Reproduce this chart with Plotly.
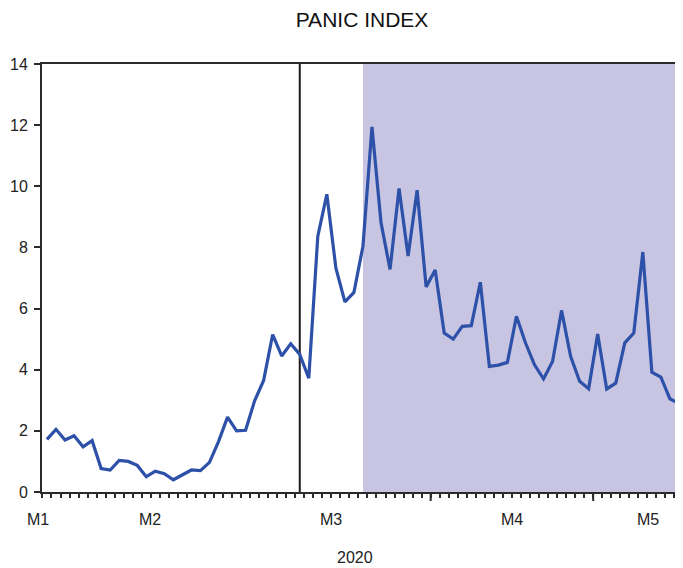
import plotly.graph_objects as go

# Daily (business-day) observations of the panic index
panic_index = [
    1.72, 2.05, 1.70, 1.84, 1.48, 1.68, 0.77, 0.72, 1.03, 1.00,
    0.87, 0.50, 0.68, 0.60, 0.40, 0.56, 0.72, 0.70, 0.97, 1.65,
    2.45, 2.00, 2.02, 2.98, 3.65, 5.15, 4.45, 4.85, 4.50, 3.72,
    8.37, 9.74, 7.33, 6.22, 6.53, 8.04, 11.94, 8.81, 7.28, 9.93,
    7.72, 9.87, 6.71, 7.26, 5.20, 5.00, 5.42, 5.44, 6.86, 4.11,
    4.15, 4.24, 5.75, 4.88, 4.16, 3.70, 4.27, 5.94, 4.44, 3.62,
    3.38, 5.17, 3.37, 3.56, 4.88, 5.20, 7.85, 3.92, 3.76, 3.05,
    2.89,
]
obs = list(range(len(panic_index)))

month_labels = ["M1", "M2", "M3", "M4", "M5"]
month_label_obs = [-1.0, 11.4, 31.45, 51.5, 66.55]
year_label = "2020"

event_obs = 28          # vertical marker
shade_start_obs = 35    # shaded period start
major_tick_obs = [42.5, 60.5]

y_ticks = [0, 2, 4, 6, 8, 10, 12, 14]

FONT = "Liberation Sans, Arial, sans-serif"
AXIS_COLOR = "#2b2b2b"
TEXT_COLOR = "#222222"

# page is rendered with an 8px body margin, so the figure is sized to fit
W, H = 675, 560
ML, MR, MT, MB = 34, 0, 56, 76
plot_h = H - MT - MB

x_range = [-0.55, len(panic_index) - 1 + 0.45]


def to_paper_x(v):
    return (v - x_range[0]) / (x_range[1] - x_range[0])


fig = go.Figure()
fig.add_trace(go.Scatter(
    x=obs, y=panic_index, mode="lines",
    line=dict(color="#2d50a8", width=3.2),
    hoverinfo="skip", showlegend=False,
))

shapes = [
    dict(type="rect", xref="x", yref="paper", x0=shade_start_obs, x1=x_range[1],
         y0=0, y1=1, fillcolor="#c7c5e2", line=dict(width=0), layer="below"),
    dict(type="line", xref="x", yref="paper", x0=event_obs, x1=event_obs,
         y0=0, y1=1, line=dict(color="#1a1a1a", width=2), layer="below"),
]
for t in major_tick_obs:
    shapes.append(dict(type="line", xref="x", yref="paper", x0=t, x1=t,
                       y0=0, y1=-9 / plot_h, line=dict(color=AXIS_COLOR, width=2)))

annotations = [
    dict(x=to_paper_x(v), y=-27 / plot_h, xref="paper", yref="paper", text=t,
         showarrow=False, xanchor="center", yanchor="middle",
         font=dict(family=FONT, size=16, color=TEXT_COLOR))
    for v, t in zip(month_label_obs, month_labels)
]
annotations.append(dict(x=0.488, y=-65 / plot_h, xref="paper", yref="paper",
                        text=year_label, showarrow=False, xanchor="center",
                        yanchor="middle", font=dict(family=FONT, size=16, color=TEXT_COLOR)))

minor_ticks = [i + 0.5 for i in range(-1, len(panic_index))]

fig.update_layout(
    width=W, height=H,
    margin=dict(l=ML, r=MR, t=MT, b=MB, pad=0),
    paper_bgcolor="white", plot_bgcolor="white",
    title=dict(text="PANIC INDEX", x=354 / W, xanchor="center",
               y=1 - 12 / H, yanchor="middle", yref="container",
               font=dict(family=FONT, size=21, color="#111")),
    shapes=shapes, annotations=annotations,
    xaxis=dict(
        range=x_range, showgrid=False, zeroline=False, automargin=False,
        showline=True, linecolor=AXIS_COLOR, linewidth=2, mirror=True,
        tickmode="array", tickvals=minor_ticks, ticks="outside", ticklen=4,
        tickwidth=2, tickcolor=AXIS_COLOR, showticklabels=False,
    ),
    yaxis=dict(
        range=[0, 14], showgrid=False, zeroline=False, automargin=False,
        showline=True, linecolor=AXIS_COLOR, linewidth=2, mirror=False,
        tickmode="array", tickvals=y_ticks, ticks="outside", ticklen=6,
        tickwidth=2, tickcolor=AXIS_COLOR, ticklabelstandoff=3,
        tickfont=dict(family=FONT, size=16, color=TEXT_COLOR),
    ),
)

fig.write_html("out.html")
